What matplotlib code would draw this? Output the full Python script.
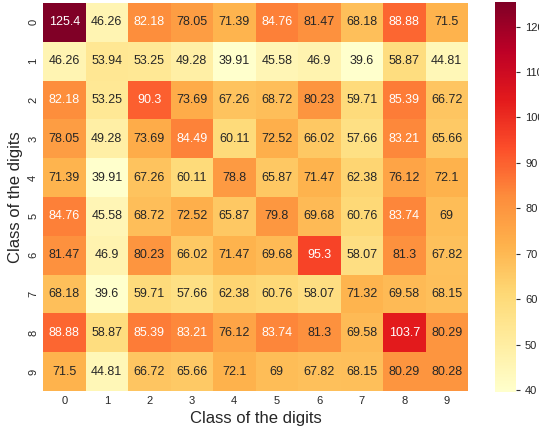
import matplotlib
matplotlib.use("Agg")
import matplotlib.pyplot as plt
import numpy as np
import seaborn as sns

CLASSES = [str(i) for i in range(10)]

ROW_0 = [125.4, 46.26, 82.18, 78.05, 71.39, 84.76, 81.47, 68.18, 88.88, 71.5]
ROW_1 = [46.26, 53.94, 53.25, 49.28, 39.91, 45.58, 46.9, 39.6, 58.87, 44.81]
ROW_2 = [82.18, 53.25, 90.3, 73.69, 67.26, 68.72, 80.23, 59.71, 85.39, 66.72]
ROW_3 = [78.05, 49.28, 73.69, 84.49, 60.11, 72.52, 66.02, 57.66, 83.21, 65.66]
ROW_4 = [71.39, 39.91, 67.26, 60.11, 78.8, 65.87, 71.47, 62.38, 76.12, 72.1]
ROW_5 = [84.76, 45.58, 68.72, 72.52, 65.87, 79.8, 69.68, 60.76, 83.74, 69]
ROW_6 = [81.47, 46.9, 80.23, 66.02, 71.47, 69.68, 95.3, 58.07, 81.3, 67.82]
ROW_7 = [68.18, 39.6, 59.71, 57.66, 62.38, 60.76, 58.07, 71.32, 69.58, 68.15]
ROW_8 = [88.88, 58.87, 85.39, 83.21, 76.12, 83.74, 81.3, 69.58, 103.7, 80.29]
ROW_9 = [71.5, 44.81, 66.72, 65.66, 72.1, 69, 67.82, 68.15, 80.29, 80.28]

sns.set_style("white")
plt.rcParams["font.family"] = ["Liberation Sans", "DejaVu Sans"]

dist = np.array([ROW_0, ROW_1, ROW_2, ROW_3, ROW_4, ROW_5, ROW_6, ROW_7, ROW_8, ROW_9])

W, H = 539, 429
fig = plt.figure(figsize=(W / 100, H / 100), dpi=100)
ax = fig.add_axes([43 / W, 1 - 391 / H, 425 / W, 388 / H])
cax = fig.add_axes([495 / W, 1 - 392 / H, 21 / W, 390 / H])

sns.heatmap(dist, ax=ax, cbar_ax=cax, cmap="YlOrRd", annot=True, fmt=".4g",
            annot_kws={"size": 9}, xticklabels=CLASSES, yticklabels=CLASSES)
ax.set_xlabel("Class of the digits", fontsize=12)
ax.set_ylabel("Class of the digits", fontsize=12)
ax.tick_params(axis="both", labelsize=8, length=0)
ax.set_yticklabels(CLASSES, rotation=90, va="center")
cax.tick_params(labelsize=8, length=3, width=0.8, color="#333333")

fig.savefig("out.png", dpi=100)
